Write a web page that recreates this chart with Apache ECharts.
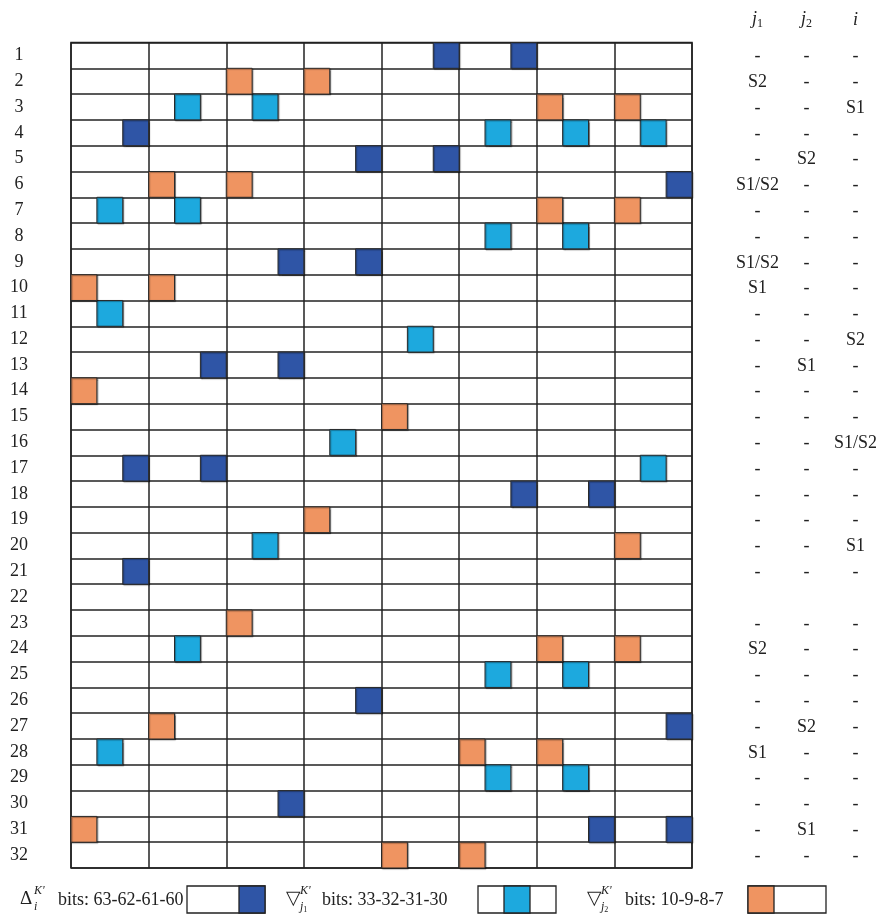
<!DOCTYPE html>
<html>
<head>
<meta charset="utf-8">
<script src="https://cdn.jsdelivr.net/npm/echarts@6/dist/echarts.min.js"></script>
<style>
html,body{margin:0;padding:0;background:#fff;}
#chart{width:882px;height:916px;}
</style>
</head>
<body>
<div id="chart"></div>
<script>
// ---- data ----
const rowLabels = ['1','2','3','4','5','6','7','8','9','10','11','12','13','14','15','16',
  '17','18','19','20','21','22','23','24','25','26','27','28','29','30','31','32'];
const groupLabels = ['G0','G1','G2','G3','G4','G5','G6','G7'];
// [group, row] : Delta_i bits 63-62-61-60 (dark blue)
const deltaMarks = [[4,1],[5,1],[0,4],[3,5],[4,5],[7,6],[2,9],[3,9],[1,13],[2,13],[0,17],[1,17],
  [5,18],[6,18],[0,21],[3,26],[7,27],[2,30],[6,31],[7,31]];
// [group, row] : nabla_j1 bits 33-32-31-30 (light blue)
const nablaJ1Marks = [[1,3],[2,3],[5,4],[6,4],[7,4],[0,7],[1,7],[5,8],[6,8],[0,11],[4,12],[3,16],
  [7,17],[2,20],[1,24],[5,25],[6,25],[0,28],[5,29],[6,29]];
// [group, row] : nabla_j2 bits 10-9-8-7 (orange)
const nablaJ2Marks = [[2,2],[3,2],[6,3],[7,3],[1,6],[2,6],[6,7],[7,7],[0,10],[1,10],[0,14],[4,15],
  [3,19],[7,20],[2,23],[6,24],[7,24],[1,27],[5,28],[6,28],[0,31],[4,32],[5,32]];
const tableHeaders = ['j1','j2','i'];
const j1Col = ['-','S2','-','-','-','S1/S2','-','-','S1/S2','S1','-','-','-','-','-','-',
  '-','-','-','-','-','','-','S2','-','-','-','S1','-','-','-','-'];
const j2Col = ['-','-','-','-','S2','-','-','-','-','-','-','-','S1','-','-','-',
  '-','-','-','-','-','','-','-','-','-','S2','-','-','-','S1','-'];
const iCol = ['-','-','S1','-','-','-','-','-','-','-','-','S2','-','-','-','S1/S2',
  '-','-','-','S1','-','','-','-','-','-','-','-','-','-','-','-'];
const legendTexts = ['bits: 63-62-61-60','bits: 33-32-31-30','bits: 10-9-8-7'];

// ---- styles ----
const SERIF = '"Liberation Serif", "Times New Roman", serif';
const LINE = '#222';
const C_DARK = '#2F55A6';
const C_LIGHT = '#1DA9DE';
const C_ORANGE = '#EF9461';
const SLOTS = 3;

const chart = echarts.init(document.getElementById('chart'), null, {renderer:'canvas'});

function markSeries(name, marks, slotOffset, color) {
  return {
    type: 'custom', name: name, xAxisIndex: 0, yAxisIndex: 0, z: 5,
    data: marks.map(m => [m[0], rowLabels.indexOf(String(m[1]))]),
    renderItem: function (params, api) {
      const slot = api.value(0) * SLOTS + slotOffset;
      const row = api.value(1);
      const p0 = api.coord([slot, row]);
      const p1 = api.coord([slot + 1, row]);
      const h = api.size([1, 1])[1];
      return {
        type: 'rect',
        shape: {x: p0[0], y: p0[1] - h / 2, width: p1[0] - p0[0], height: h},
        style: {fill: color, stroke: '#2a2a2a', lineWidth: 1,
          shadowColor: 'rgba(0,0,0,0.35)', shadowOffsetX: 1, shadowOffsetY: 1, shadowBlur: 1}
      };
    }
  };
}

const tableData = [];
[j1Col, j2Col, iCol].forEach((col, c) => {
  col.forEach((t, r) => { if (t !== '') tableData.push([c, r, t]); });
});

const legendBoxW = 78, legendBoxH = 27;
function legendBox(x, y, slotIdx, color) {
  const w = legendBoxW / SLOTS;
  return [
    {type:'rect', shape:{x:x, y:y, width:legendBoxW, height:legendBoxH},
     style:{fill:'#fff', stroke:LINE, lineWidth:1.3}},
    {type:'rect', shape:{x:x + slotIdx * w, y:y, width:w, height:legendBoxH},
     style:{fill:color, stroke:LINE, lineWidth:1.3}}
  ];
}
function legendSym(x, y, sym, supTxt, subTxt, rest, restX) {
  return [
    {type:'text', x:x, y:y, style:{text:sym, font:'19px ' + SERIF, fill:'#222', align:'left', verticalAlign:'middle'}},
    {type:'text', x:x + 14, y:y - 8, style:{text:supTxt, font:'italic 12px ' + SERIF, fill:'#222', align:'left', verticalAlign:'middle'}},
    {type:'text', x:x + 14, y:y + 8, style:{rich:{a:{fontStyle:'italic', fontSize:12, fontFamily:SERIF, fill:'#222'}, b:{fontSize:8, fontFamily:SERIF, fill:'#222', padding:[5,0,0,0]}}, text:subTxt, align:'left', verticalAlign:'middle'}},
    {type:'text', x:restX, y:y + 1, style:{text:rest, font:'18px ' + SERIF, fill:'#222', align:'left', verticalAlign:'middle'}}
  ];
}

const legendY = 899;
const graphics = [].concat(
  legendSym(20, legendY, 'Δ', "K'", '{a|i}', legendTexts[0], 58),
  legendBox(187, 886, 2, C_DARK),
  legendSym(286, legendY, '▽', "K'", '{a|j}{b|1}', legendTexts[1], 322),
  legendBox(478, 886, 1, C_LIGHT),
  legendSym(587, legendY, '▽', "K'", '{a|j}{b|2}', legendTexts[2], 625),
  legendBox(748, 886, 0, C_ORANGE)
);

const option = {
  animation: false,
  backgroundColor: '#fff',
  grid: [
    {left: 71, top: 42.5, width: 621, height: 825.5, show: true, borderColor: LINE, borderWidth: 1.5, backgroundColor: '#fff'},
    {left: 733, top: 42.5, width: 147, height: 825.5, show: false}
  ],
  xAxis: [
    {gridIndex: 0, type: 'value', min: 0, max: groupLabels.length * SLOTS, interval: SLOTS,
     axisLabel: {show: false}, axisTick: {show: false}, axisLine: {show: false},
     splitLine: {show: true, lineStyle: {color: LINE, width: 1.5}}},
    {gridIndex: 1, type: 'category', data: tableHeaders, position: 'top', boundaryGap: true,
     axisLine: {show: false}, axisTick: {show: false}, splitLine: {show: false},
     axisLabel: {margin: 13, interval: 0,
       formatter: function (v) { return v === 'i' ? '{it|i}' : '{it|j}{sub|' + v.slice(1) + '}'; },
       rich: {
         it: {fontFamily: SERIF, fontStyle: 'italic', fontSize: 18, color: '#222'},
         sub: {fontFamily: SERIF, fontSize: 12, color: '#222', padding: [8, 0, 0, 0]}
       }}}
  ],
  yAxis: [
    {gridIndex: 0, type: 'category', data: rowLabels, inverse: true, boundaryGap: true,
     axisLine: {show: false}, axisTick: {show: false},
     splitLine: {show: true, interval: 0, lineStyle: {color: LINE, width: 1.5}},
     axisLabel: {interval: 0, align: 'center', margin: 52, fontFamily: SERIF, fontSize: 18, color: '#222'}},
    {gridIndex: 1, type: 'category', data: rowLabels, inverse: true, boundaryGap: true, show: false}
  ],
  series: [
    markSeries('delta', deltaMarks, 2, C_DARK),
    markSeries('nablaJ1', nablaJ1Marks, 1, C_LIGHT),
    markSeries('nablaJ2', nablaJ2Marks, 0, C_ORANGE),
    {
      type: 'custom', name: 'table', xAxisIndex: 1, yAxisIndex: 1,
      data: tableData,
      renderItem: function (params, api) {
        const p = api.coord([api.value(0), api.value(1)]);
        const t = tableData[params.dataIndex][2];
        return {type: 'text', x: p[0], y: p[1] + 1,
          style: {text: t, font: '18px ' + SERIF, fill: '#222', align: 'center', verticalAlign: 'middle'}};
      }
    }
  ],
  graphic: graphics
};
chart.setOption(option);
</script>
</body>
</html>
